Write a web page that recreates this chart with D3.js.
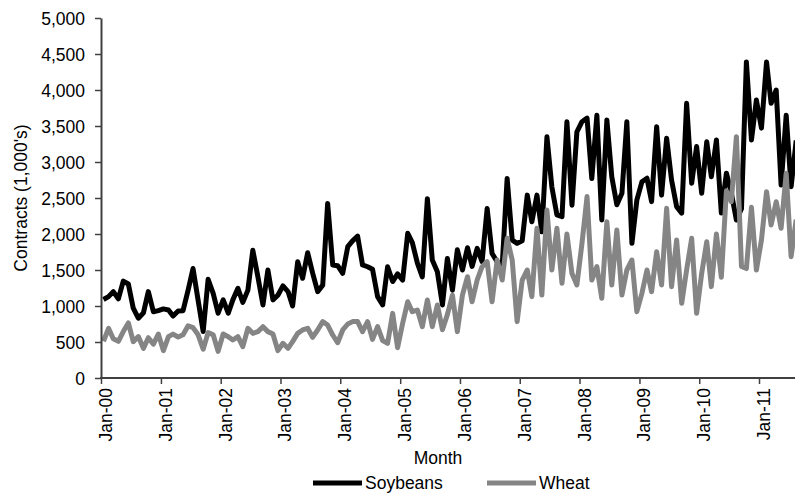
<!DOCTYPE html>
<html>
<head>
<meta charset="utf-8">
<script src="https://cdn.jsdelivr.net/npm/d3@7"></script>
<style>
  html, body { margin: 0; padding: 0; background: #fff; }
  svg { display: block; font-family: "Liberation Sans", Arial, sans-serif; }
</style>
</head>
<body>
<svg id="chart" width="795" height="493"></svg>
<script>
// ---- Data (monthly, Jan-2000 onward) ----
const startMonth = "2000-01";
const soybeans = [
  1090,1130,1200,1100,1345,1305,970,830,905,1200,920,935,
  960,945,860,930,935,1220,1520,1080,645,1370,1175,900,
  1085,900,1085,1245,1050,1220,1775,1405,1015,1500,1085,1150,
  1280,1200,1000,1615,1385,1740,1460,1200,1290,2425,1570,1560,
  1455,1825,1905,1970,1570,1545,1510,1130,1015,1545,1340,1445,
  1360,2010,1880,1595,1405,2490,1640,1475,1015,1660,1220,1780,
  1500,1810,1550,1800,1615,2355,1730,1615,1560,2770,1915,1870,
  1905,2540,2170,2540,2030,3350,2655,2265,2240,3560,2400,3420,
  3560,3610,2770,3650,2195,3585,2795,2405,2565,3560,1870,2470,
  2725,2775,2450,3490,2540,3330,2750,2380,2290,3815,2705,3215,
  2565,3280,2795,3305,2290,2845,2570,2195,2350,4390,3305,3860,
  3470,4390,3815,4000,2680,3650,2655,3300
];
const wheat = [
  510,690,545,510,645,765,505,575,412,560,470,610,
  380,574,610,570,600,725,700,600,400,630,600,370,
  611,574,528,574,435,690,620,644,713,644,611,380,
  482,412,505,620,667,690,565,667,783,736,597,490,
  667,750,783,783,644,783,537,713,519,482,898,420,
  760,1060,921,944,713,1083,713,1014,670,880,1150,644,
  1150,1407,1060,1361,1546,1616,1060,1639,1361,1940,1639,783,
  1361,1500,1130,2079,1153,2333,1500,2079,1315,2000,1450,1292,
  1870,2520,1361,1546,1107,2171,1292,2056,1153,1500,1639,921,
  1176,1500,1199,1754,1292,2356,1269,1917,1037,1500,1940,898,
  1454,1893,1269,2000,1400,2600,2450,3352,1550,1520,2370,1500,
  1917,2588,2125,2449,2079,2843,1685,2200
];
const seriesNames = ["Soybeans", "Wheat"];
const seriesColors = ["#000000", "#858585"];
const yTicks = [0,500,1000,1500,2000,2500,3000,3500,4000,4500,5000];
const xTickYears = [2000,2001,2002,2003,2004,2005,2006,2007,2008,2009,2010,2011];
const yTitle = "Contracts (1,000's)";
const xTitle = "Month";

// ---- Layout ----
const svg = d3.select("#chart");
const W = 795, H = 493;
const mLeft = 101, mRight = 795, mTop = 18, mBottom = 378;

const parseMonth = d3.timeParse("%Y-%m");
const t0 = parseMonth(startMonth);
const dates = soybeans.map((_, i) => d3.timeDay.offset(d3.timeMonth.offset(t0, i), 15));

const x = d3.scaleTime()
  .domain([new Date(2000, 0, 1), new Date(2011, 0, 1)])
  .range([mLeft, 759]);
const y = d3.scaleLinear().domain([0, 5000]).range([mBottom, mTop]);

svg.append("defs").append("clipPath").attr("id", "plotClip")
  .append("rect").attr("x", mLeft).attr("y", 0).attr("width", mRight - mLeft).attr("height", mBottom + 5);

const fontSize = 17.5;
const axisColor = "#404040";

// Lines
const series = [soybeans, wheat];
const line = d3.line()
  .x((d, i) => x(dates[i]))
  .y(d => y(d));
const g = svg.append("g").attr("clip-path", "url(#plotClip)");
series.forEach((s, k) => {
  g.append("path")
    .datum(s)
    .attr("d", line)
    .attr("fill", "none")
    .attr("stroke", seriesColors[k])
    .attr("stroke-width", 5)
    .attr("stroke-linejoin", "round")
    .attr("stroke-linecap", "butt");
});

// Y axis
const yAxis = d3.axisLeft(y).tickValues(yTicks).tickFormat(d3.format(",")).tickSize(6).tickSizeOuter(0);
const yg = svg.append("g").attr("transform", `translate(${mLeft},0)`).call(yAxis);
yg.select(".domain").attr("stroke", axisColor).attr("stroke-width", 2);
yg.selectAll(".tick line").attr("stroke", axisColor).attr("stroke-width", 1.5);
yg.selectAll(".tick text")
  .attr("x", -16)
  .attr("dy", "0.36em")
  .attr("font-size", fontSize)
  .attr("font-family", "Liberation Sans, Arial, sans-serif")
  .attr("fill", "#000");

// X axis
const xTickDates = xTickYears.map(yv => new Date(yv, 0, 1));
const xAxis = d3.axisBottom(x).tickValues(xTickDates).tickFormat(d3.timeFormat("%b-%y")).tickSize(6).tickSizeOuter(0);
const xg = svg.append("g").attr("transform", `translate(0,${mBottom})`).call(xAxis);
xg.select(".domain").remove();
xg.append("line").attr("x1", mLeft - 1).attr("x2", W).attr("y1", 0).attr("y2", 0)
  .attr("stroke", axisColor).attr("stroke-width", 2);
xg.selectAll(".tick line").attr("stroke", axisColor).attr("stroke-width", 1.5);
xg.selectAll(".tick text")
  .attr("transform", "rotate(-90)")
  .attr("text-anchor", "end")
  .attr("x", -10)
  .attr("y", 0)
  .attr("dy", "0.6em")
  .attr("font-size", fontSize)
  .attr("font-family", "Liberation Sans, Arial, sans-serif")
  .attr("fill", "#000");

// Axis titles
svg.append("text")
  .attr("transform", `translate(27,${(mTop + mBottom) / 2}) rotate(-90)`)
  .attr("text-anchor", "middle")
  .attr("font-size", fontSize)
  .attr("fill", "#000")
  .text(yTitle);

svg.append("text")
  .attr("x", 438)
  .attr("y", 464)
  .attr("text-anchor", "middle")
  .attr("font-size", fontSize)
  .attr("fill", "#000")
  .text(xTitle);

// Legend
const legendItems = [
  { name: seriesNames[0], color: seriesColors[0], x1: 313, x2: 362, tx: 365 },
  { name: seriesNames[1], color: seriesColors[1], x1: 487, x2: 536, tx: 539 }
];
const lg = svg.append("g");
legendItems.forEach(it => {
  lg.append("line").attr("x1", it.x1).attr("x2", it.x2).attr("y1", 483).attr("y2", 483)
    .attr("stroke", it.color).attr("stroke-width", 5);
  lg.append("text").attr("x", it.tx).attr("y", 489).attr("font-size", fontSize).attr("fill", "#000").text(it.name);
});
</script>
</body>
</html>
